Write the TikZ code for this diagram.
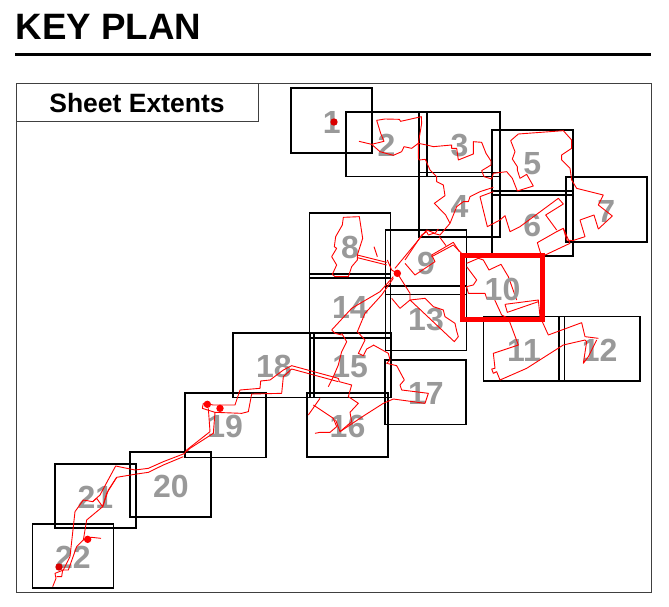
\documentclass[tikz,border=0pt]{standalone}
\usepackage{fontspec}
\setmainfont{Liberation Sans}
\tikzset{
  sheetbox/.style={draw=black,line width=1.7pt,minimum width=81pt,minimum height=64.6pt,inner sep=0pt,outer sep=0pt,text=numgray,text height=25pt,text depth=0pt,font=\fontsize{32}{32}\selectfont\bfseries},
  activebox/.style={sheetbox,draw=red,line width=5pt,minimum width=80pt},
  route/.style={draw=red,line width=0.9pt,line join=round},
  frameline/.style={draw=black!75,line width=1pt},
  zone/.style={x=0.33333pt,y=-0.33333pt}
}
\definecolor{numgray}{gray}{0.6}
\begin{document}
\begin{tikzpicture}[x=1pt,y=-1pt]
\useasboundingbox (0,0) rectangle (669,607);
\node[anchor=base west,inner sep=0pt,font=\fontsize{36.7}{36.7}\selectfont\bfseries] (title) at (15.5,39.5) {KEY PLAN};
\coordinate (ruleA) at (15,54.5); \coordinate (ruleB) at (651,54.5);
\draw[line width=3.5pt] (ruleA) -- (ruleB);
\node[frameline,draw,minimum width=635pt,minimum height=508pt,inner sep=0pt,outer sep=0pt] (frame) at (333.5,338) {};
\node[frameline,draw,minimum width=242pt,minimum height=38pt,inner sep=0pt,outer sep=0pt,font=\fontsize{26.5}{26.5}\selectfont\bfseries] (legend) at (137,103) {Sheet Extents};

\node[sheetbox] (s1) at (331.8,120.6) {1};
\node[sheetbox] (s2) at (386.4,144.2) {2};
\node[sheetbox] (s3) at (459.5,144.2) {3};
\node[sheetbox] (s4) at (459.5,204.8) {4};
\node[sheetbox] (s5) at (532.2,162.5) {5};
\node[sheetbox] (s6) at (532.2,223.5) {6};
\node[sheetbox] (s7) at (606.3,209.5) {7};
\node[sheetbox] (s8) at (350,245.5) {8};
\node[sheetbox] (s9) at (426,262.3) {9};
\node[sheetbox] (s13) at (426,318.3) {13};
\node[sheetbox] (s14) at (350,306) {14};
\node[sheetbox] (s11) at (524,348.7) {11};
\node[sheetbox] (s12) at (599.7,348.7) {12};
\node[sheetbox] (s15) at (350.2,365.2) {15};
\node[sheetbox] (s18) at (273.8,365.2) {18};
\node[sheetbox] (s17) at (425.8,392.3) {17};
\node[sheetbox] (s16) at (347.5,425) {16};
\node[sheetbox] (s19) at (225.2,425.2) {19};
\node[sheetbox] (s20) at (170.8,484.5) {20};
\node[sheetbox] (s21) at (95.5,496) {21};
\node[sheetbox] (s22) at (73,556) {22};

% north part
\begin{scope}[shift={(280,80)},zone]
\fill[red!85!black] (162,126) circle (3.7pt);
\draw[route] (237,184) -- (275,193) -- (312,184) -- (302,160) -- (290,121) -- (315,117) -- (358,118) -- (362,124) -- (424,110) -- (425,130) -- (415,190) -- (415,235) -- (418,240) -- (436,238) -- (450,270) -- (470,290) -- (470,305) -- (490,315) -- (495,347) -- (463,370) -- (497,405) -- (510,430) -- (480,465) -- (460,460) -- (445,465) -- (440,455) -- (425,465) -- (375,540);
\draw[route] (275,193) -- (300,215) -- (340,226) -- (365,215) -- (372,200) -- (395,205) -- (415,190) -- (440,195) -- (460,200) -- (515,195) -- (515,205) -- (530,205) -- (535,240) -- (580,222) -- (580,185) -- (605,187) -- (618,220) -- (633,243) -- (633,255) -- (605,272) -- (612,290) -- (635,297) -- (640,280) -- (680,275) -- (697,295) -- (712,333) -- (760,318) -- (740,283) -- (720,295) -- (712,270) -- (712,260) -- (697,237) -- (705,215) -- (692,182) -- (715,162) -- (850,152) -- (875,180) -- (875,205) -- (845,225) -- (845,240) -- (870,265) -- (875,300) -- (890,325) -- (970,345) -- (955,375) -- (997,408) -- (955,447) -- (942,405) -- (900,420) -- (915,470) -- (878,482) -- (860,480) -- (850,445) -- (830,455) -- (772,488) -- (785,530);
\draw[route] (510,430) -- (530,380) -- (550,365) -- (565,365) -- (570,350) -- (600,335) -- (640,322);
\draw[route] (600,350) -- (640,335);
\draw[route] (600,350) -- (622,440) -- (660,420) -- (675,407) -- (690,455) -- (720,440) -- (835,355) -- (850,372) -- (797,405) -- (830,450);
\draw[route] (785,530) -- (870,490) -- (850,445);
\end{scope}

% middle part
\begin{scope}[shift={(300,205)},zone]
\draw[route] (130,37) -- (127,60) -- (107,95) -- (103,125) -- (110,130) -- (95,155) -- (110,180) -- (97,208) -- (105,215) -- (145,215) -- (155,185) -- (172,165) -- (172,150) -- (188,100) -- (178,35) -- cycle;
\draw[route] (172,150) -- (260,172);
\draw[route] (172,158) -- (260,180);
\draw[route] (222,125) -- (232,155);
\fill[red] (292,205) circle (3.7pt);
\draw[route] (262,165) -- (275,195) -- (292,205);
\draw[route] (285,190) -- (380,75) -- (405,85) -- (415,72);
\draw[route] (315,175) -- (345,210) -- (405,170) -- (395,150) -- (460,112) -- (478,140);
\draw[route] (395,155) -- (460,120) -- (495,155);
\draw[route] (418,95) -- (438,122);
\draw[route] (500,175) -- (535,160) -- (550,165) -- (567,195) -- (603,178) -- (625,215) -- (650,285);
\draw[route] (500,185) -- (530,225) -- (520,240) -- (500,245) -- (505,265) -- (555,265) -- (560,280) -- (582,280) -- (605,330) -- (625,340) -- (655,420) -- (580,445) -- (585,490) -- (575,492) -- (580,505) -- (590,500) -- (600,525) -- (680,490) -- (790,420) -- (855,405) -- (860,410) -- (850,475) -- (865,455) -- (890,405);
\draw[route] (615,298) -- (715,285) -- (720,335) -- (745,390) -- (845,353) -- (855,395) -- (895,400);
\draw[route] (615,298) -- (622,322) -- (715,290);
\draw[route] (292,205) -- (330,265) -- (330,285) -- (300,310) -- (275,280);
\draw[route] (330,285) -- (375,280) -- (400,305) -- (430,315) -- (435,335) -- (465,355) -- (470,378) -- (475,395) -- (463,410) -- (330,285);
\draw[route] (280,215) -- (240,260) -- (155,310) -- (95,375) -- (105,385) -- (125,390);
\draw[route] (280,220) -- (245,270) -- (195,325) -- (172,380) -- (195,405) -- (175,445) -- (190,452) -- (200,432) -- (222,420);
\end{scope}

% south-west of centre
\begin{scope}[shift={(170,325)},zone]
\draw[route] (515,25) -- (530,50) -- (515,80) -- (505,120) -- (490,155) -- (475,185);
\draw[route] (610,60) -- (655,85) -- (660,105) -- (650,115) -- (680,122) -- (703,165) -- (690,180) -- (695,195) -- (775,205) -- (765,235) -- (670,222) -- (640,235) -- (585,270) -- (510,320) -- (497,285);
\draw[route] (450,220) -- (415,270);
\draw[route] (430,240) -- (490,280) -- (500,305) -- (480,322) -- (450,322) -- (435,325);
\draw[route] (510,320) -- (545,290) -- (540,262) -- (565,235) -- (535,215) -- (545,180) -- (508,170) -- (505,160) -- (365,122) -- (340,135) -- (300,165) -- (272,168) -- (270,190) -- (210,195) -- (195,240) -- (130,240) -- (100,235);
\draw[route] (505,170) -- (365,132) -- (340,155) -- (335,205) -- (245,207) -- (235,260) -- (215,265) -- (135,262) -- (130,325) -- (60,370) -- (50,380);
\draw[route] (115,250) -- (120,320) -- (50,375) -- (42,388);
\draw[route] (100,235) -- (97,250) -- (135,262);
\fill[red] (112,238) circle (3.7pt);
\fill[red] (150,250) circle (3.7pt);
\end{scope}

% south-west end
\begin{scope}[shift={(20,440)},zone]
\draw[route] (495,40) -- (430,65) -- (385,85) -- (345,90) -- (287,78) -- (240,165) -- (218,185) -- (190,180) -- (165,215) -- (150,350) -- (130,390) -- (105,400) -- (108,415) -- (98,440);
\draw[route] (490,50) -- (430,75) -- (385,97) -- (350,102) -- (290,112) -- (260,160) -- (248,200) -- (230,175) -- (218,185);
\draw[route] (290,112) -- (265,150) -- (248,200) -- (200,240) -- (190,300) -- (215,292) -- (243,295);
\draw[route] (190,300) -- (170,320) -- (145,390) -- (128,390) -- (125,410) -- (110,410);
\fill[red] (203,298) circle (3.7pt);
\fill[red!85!black] (117,381) circle (3.7pt);
\end{scope}

\node[activebox] (s10) at (502.5,287.5) {};
\node[font=\fontsize{32}{32}\selectfont\bfseries,text=numgray,inner sep=0pt] (n10) at (502.5,289) {10};
\end{tikzpicture}
\end{document}
